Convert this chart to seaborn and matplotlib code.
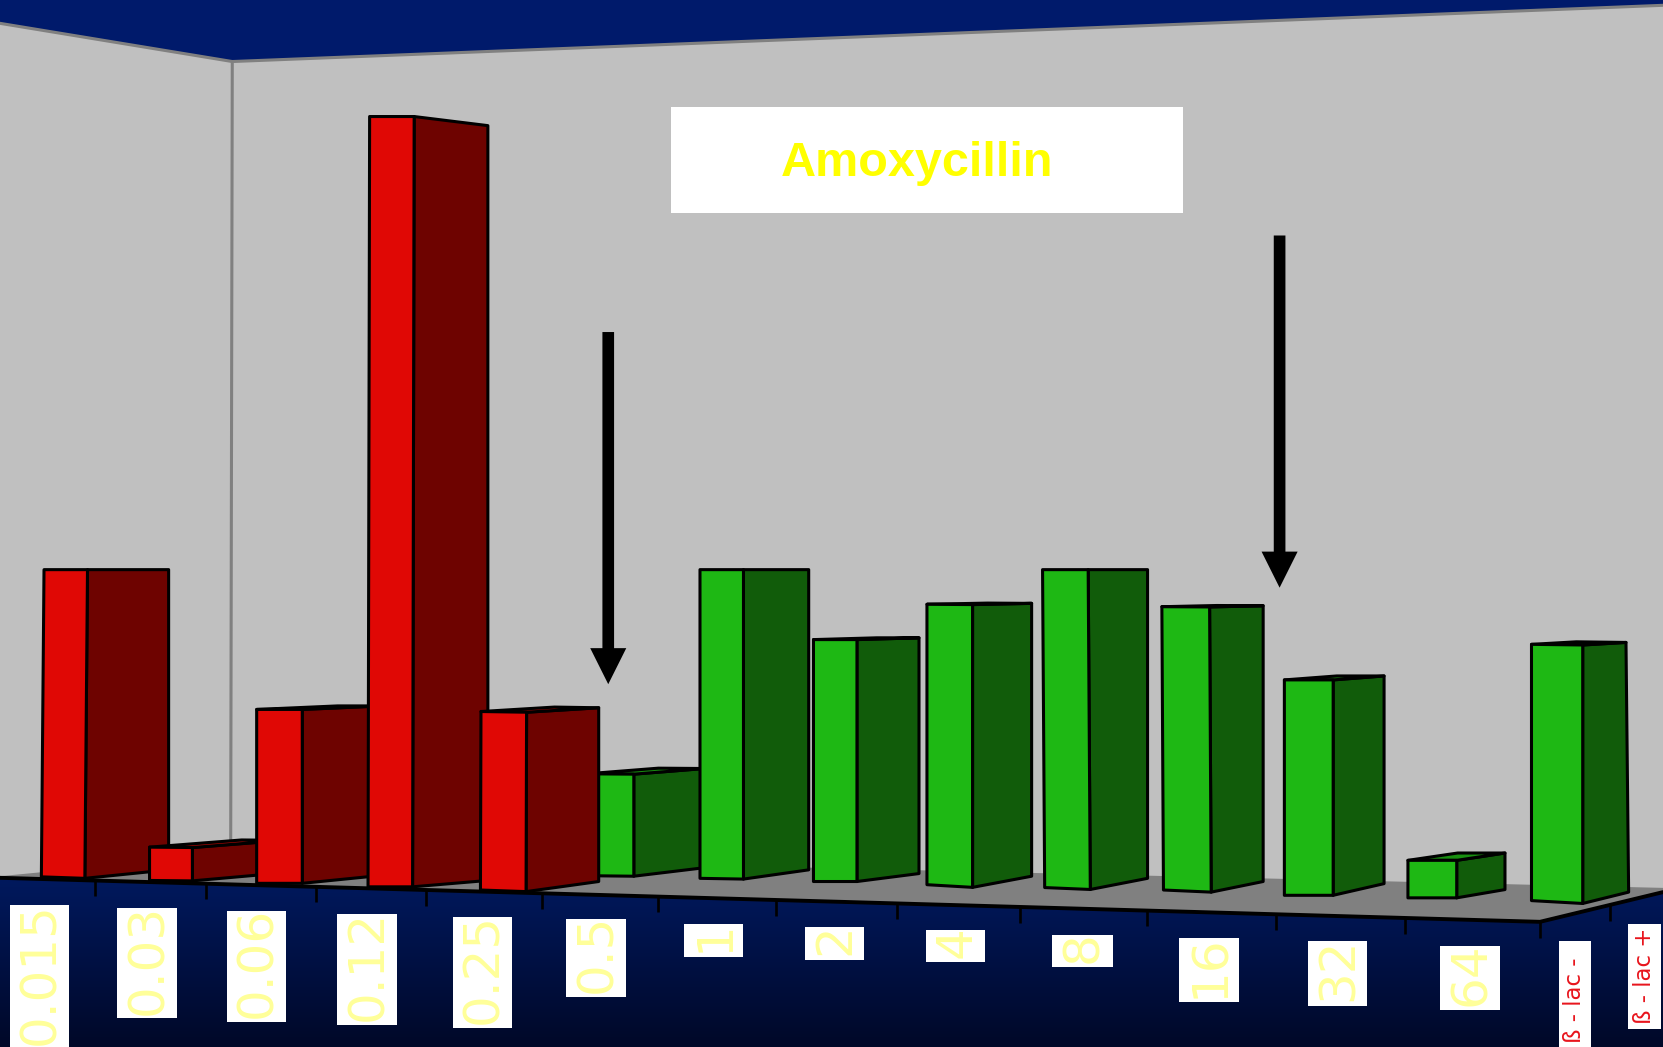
import numpy as np
import pandas as pd
import matplotlib
matplotlib.use("Agg")
import matplotlib.pyplot as plt
import matplotlib.transforms as mtrans
from matplotlib.colors import LinearSegmentedColormap
from matplotlib.patches import Polygon, Rectangle
import seaborn as sns

# ---------- data ----------
categories = ["0.015", "0.03", "0.06", "0.12", "0.25", "0.5", "1", "2", "4", "8",
              "16", "32", "64", "ß - lac -", "ß - lac +"]
groups = ["R"] * 5 + ["S"] * 10
values = [7.0, 0.75, 3.88, 17.0, 3.90, 2.33, 7.0, 5.43, 6.23, 7.0, 6.19, 4.63, 0.80, 5.42, 0.0]
title = "Amoxycillin"

# ---------- layout of the perspective scene (reference units, 1568 x 987) ----------
W, H = 1568, 987
HORIZON = 537.0     # eye level of the scene
EYE_VALUE = 7.0     # value whose bar top reaches eye level
fl_base = [(39, 826.6), (141, 830), (242, 832.7), (347, 836), (453, 839), (553, 825.5), (660, 828),
           (767, 831), (874, 834), (985, 836.7), (1097, 839), (1211, 844), (1327.5, 846.4), (1444, 849)]
fr_base = [(80, 828), (181.4, 830.4), (285, 832.7), (389, 836), (496, 840.5), (597.6, 826), (701, 828.7),
           (808, 831), (917, 836.5), (1028, 838.5), (1142, 841), (1257, 844), (1373.5, 846.4), (1492.3, 851.7)]
br_base = [(159, 820), (267, 822.8), (360, 825.2), (460, 830), (564.5, 831), (664, 818), (762.5, 820),
           (866.5, 823.5), (972.7, 826), (1082, 828), (1191, 831), (1305, 833), (1419, 838.6), (1535.6, 841)]
front_lean = [2.5, 0, 0, 1.5, 0.5, 0, 0, 0, 0, -2, -1.5, 0, 0, 0]
back_lean = [0] * 13 + [-2.5]
paint_order = [0, 1, 2, 3, 5, 4, 6, 7, 8, 9, 10, 11, 12, 13]
label_boxes = [(9, 853, 65, 990), (110, 856, 167, 960), (214, 859, 270, 963), (318, 862, 374, 966),
               (427, 864, 483, 969), (534, 866, 590, 940), (645, 871, 701, 902), (759, 874, 815, 905),
               (873, 877, 929, 907), (992, 881, 1049, 912), (1112, 884, 1168, 945), (1233, 887, 1289, 948),
               (1358, 892, 1414, 952), (1470, 887, 1500, 1000), (1535, 871, 1566, 970)]
tick_x = [90, 194, 298, 402, 511, 620, 731.6, 845.8, 962, 1081.7, 1202.7, 1325, 1451.6, 1518]

side_colors = {"R": "#6E0300", "S": "#115C0A"}
top_colors = {"R": "#B00603", "S": "#188F10"}
palette = {"R": "#E00805", "S": "#1EB814"}
EDGE_LW = 2.2


class FaceTransform(mtrans.Transform):
    """Maps one upright seaborn bar on to its face in the perspective scene."""
    input_dims = output_dims = 2

    def __init__(self, x0, w, v, fl_b, fr_b, fl_t, fr_t):
        super().__init__()
        self.x0, self.w, self.v = x0, w, v
        self.c = [np.asarray(p, float) for p in (fl_b, fr_b, fl_t, fr_t)]

    def transform_non_affine(self, xy):
        xy = np.asarray(xy, float)
        s = ((xy[:, 0] - self.x0) / self.w)[:, None]
        t = (xy[:, 1] / self.v)[:, None]
        a, b, c, d = self.c
        return (1 - s) * (1 - t) * a + s * (1 - t) * b + (1 - s) * t * c + s * t * d


def lift(pt, v, lean=0.0):
    """Top of a vertical edge of value v standing on floor point pt."""
    return (pt[0] + lean, pt[1] - v / EYE_VALUE * (pt[1] - HORIZON))


sns.set_style("white")
fig = plt.figure(figsize=(16.63, 10.47), dpi=100)
ax = fig.add_axes([0, 0, 1, 1])

# ---------- bars through seaborn ----------
df = pd.DataFrame({"concentration": categories, "value": values, "group": groups})
sns.barplot(data=df, x="concentration", y="value", hue="group", order=categories,
            palette=palette, saturation=1, dodge=False, legend=False, width=0.8,
            edgecolor="black", linewidth=EDGE_LW, ax=ax)

for p in list(ax.patches):
    v = p.get_height()
    if not np.isfinite(v) or v <= 0:
        p.set_visible(False)
        continue
    i = int(round(p.get_x() + p.get_width() / 2))
    z = 10 + paint_order.index(i)
    fl, fr, br = fl_base[i], fr_base[i], br_base[i]
    # back-left corner follows from the same convergence towards the horizon
    bl_x = br[0] - (fr[0] - fl[0]) * 0.97
    bl_y = HORIZON + (br[1] - HORIZON) * (fl[1] - HORIZON) / (fr[1] - HORIZON)
    bl = (bl_x, bl_y)
    fl_t, fr_t = lift(fl, v, front_lean[i]), lift(fr, v, front_lean[i])
    br_t, bl_t = lift(br, v, back_lean[i]), lift(bl, v, back_lean[i])
    g = groups[i]
    ax.add_patch(Polygon([fr, br, br_t, fr_t], closed=True, fc=side_colors[g], ec="black",
                         lw=EDGE_LW, zorder=z + 0.1, joinstyle="round"))
    if v < EYE_VALUE:
        ax.add_patch(Polygon([fl_t, bl_t, br_t, fr_t], closed=True, fc=top_colors[g], ec="black",
                             lw=EDGE_LW, zorder=z + 0.2, joinstyle="round"))
    p.set_transform(FaceTransform(p.get_x(), p.get_width(), v, fl, fr, fl_t, fr_t) + ax.transData)
    p.set_zorder(z + 0.3)
    p.set_joinstyle("round")
    p.set_snap(False)

# ---------- room ----------
ax.add_patch(Rectangle((0, 0), W, H, fc="#C0C0C0", ec="none", zorder=0))
ceiling = Polygon([(0, 0), (W, 0), (W, 5), (219, 58), (0, 22)], closed=True,
                  fc="#001A6B", ec="none", zorder=1)
ax.add_patch(ceiling)
ax.plot([0, 219, W], [22, 58, 5], color="#808080", lw=2.2, zorder=2)
ax.plot([219, 217.5], [58, 806], color="#808080", lw=2.2, zorder=2)
ax.add_patch(Polygon([(0, 826), (218, 805), (W, 837), (W, 841), (1452, 869), (0, 827)], closed=True,
                     fc="#808080", ec="none", zorder=3))

cmap = LinearSegmentedColormap.from_list("base", ["#00195E", "#000828"])
front = Polygon([(0, 827), (1452, 869), (W, 841), (W, H), (0, H)], closed=True, fc="none", ec="none",
                transform=ax.transData, zorder=4)
ax.add_patch(front)
im = ax.imshow(np.linspace(0, 1, 256)[:, None], cmap=cmap, aspect="auto",
               extent=(0, W, H, 827), zorder=4)
im.set_clip_path(front)
ax.plot([0, 1452, W], [827.5, 869, 841], color="black", lw=2.8, zorder=5)


def front_edge(x):
    return 827 + 42 * x / 1452 if x <= 1452 else 869 - 28 * (x - 1452) / (W - 1452)


ax.vlines(tick_x, [front_edge(x) for x in tick_x], [front_edge(x) + 15 for x in tick_x],
          color="black", lw=1.9, zorder=5)

# ---------- axis labels on white cards ----------
for lab, (x0, y0, x1, y1) in zip(categories, label_boxes):
    ax.add_patch(Rectangle((x0, y0), x1 - x0, y1 - y0, fc="white", ec="none", zorder=6))
    small = lab.startswith("ß")
    ax.text((x0 + x1) / 2 + (0 if small else 1), (y0 + y1) / 2 - (1 if small else 4), lab,
            rotation=90, ha="center", va="center",
            color="#E8141C" if small else "#FFFF99", fontsize=16.5 if small else 36,
            family="DejaVu Sans", zorder=7, clip_on=True)

# ---------- title card and arrows ----------
ax.add_patch(Rectangle((633, 101), 482, 100, fc="white", ec="none", zorder=6))
ax.text(864.5, 154.5, title, ha="center", va="center", color="#FFFF00", fontsize=35,
        fontweight="bold", family="Liberation Sans", zorder=7)
for ax_x, y0, y1 in [(573.5, 313, 645), (1206.5, 222, 554)]:
    ax.arrow(ax_x, y0, 0, y1 - y0, width=11, head_width=34, head_length=34,
             length_includes_head=True, fc="black", ec="none", zorder=40)

ax.set_xlim(0, W)
ax.set_ylim(H, 0)
ax.set_xlabel("")
ax.set_ylabel("")
ax.axis("off")
fig.savefig("out.png", dpi=100)
